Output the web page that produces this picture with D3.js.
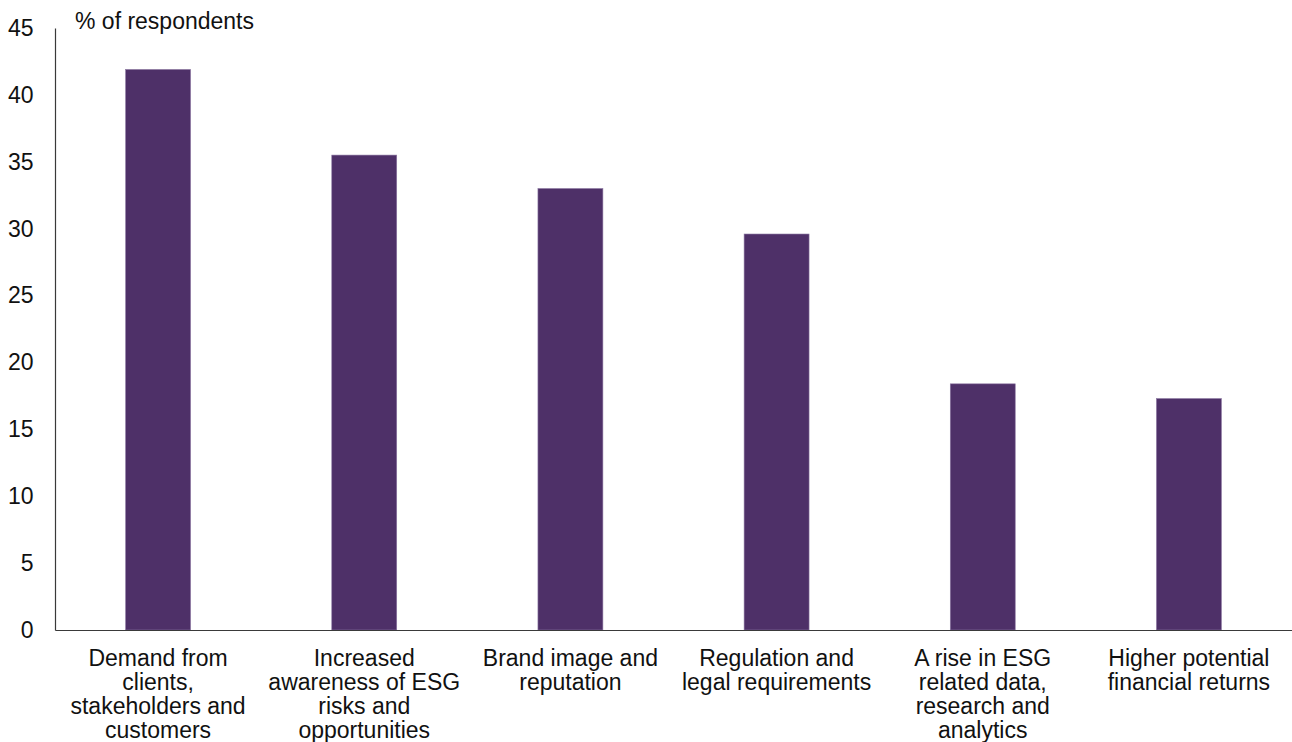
<!DOCTYPE html>
<html>
<head>
<meta charset="utf-8">
<script src="https://cdn.jsdelivr.net/npm/d3@7"></script>
<style>
  html, body { margin: 0; padding: 0; background: #ffffff; }
  svg { display: block; }
  text { font-family: "Liberation Sans", Arial, sans-serif; fill: #111111; }
</style>
</head>
<body>
<svg id="chart" width="1292" height="742"></svg>
<script>
// Data
const categories = [
  "Demand from clients, stakeholders and customers",
  "Increased awareness of ESG risks and opportunities",
  "Brand image and reputation",
  "Regulation and legal requirements",
  "A rise in ESG related data, research and analytics",
  "Higher potential financial returns"
];
const categoryLines = [
  ["Demand from", "clients,", "stakeholders and", "customers"],
  ["Increased", "awareness of ESG", "risks and", "opportunities"],
  ["Brand image and", "reputation"],
  ["Regulation and", "legal requirements"],
  ["A rise in ESG", "related data,", "research and", "analytics"],
  ["Higher potential", "financial returns"]
];
const values = [41.9, 35.5, 33.0, 29.6, 18.4, 17.3];
const yTicks = [0, 5, 10, 15, 20, 25, 30, 35, 40, 45];
const yAxisTitle = "% of respondents";

const svg = d3.select("#chart");
const mLeft = 55, mRight = 1292, mTop = 28, mBottom = 630;

const x = d3.scaleBand()
  .domain(categories)
  .range([mLeft, mRight])
  .paddingInner(0.685)
  .paddingOuter(0.3425);

const y = d3.scaleLinear().domain([0, 45]).range([mBottom, mTop]);

// Bars
svg.append("g").selectAll("rect")
  .data(values)
  .join("rect")
  .attr("x", (d, i) => x(categories[i]))
  .attr("y", d => y(d))
  .attr("width", x.bandwidth())
  .attr("height", d => y(0) - y(d))
  .attr("fill", "#4e3068")
  .attr("stroke", "#8a76a0")
  .attr("stroke-width", 0.6);

// Y axis
const yAxis = svg.append("g")
  .attr("transform", `translate(${mLeft},0)`)
  .call(d3.axisLeft(y).tickValues(yTicks).tickSize(0).tickSizeOuter(0).tickPadding(21.5));
yAxis.select(".domain").attr("stroke", "#3a3a3a").attr("stroke-width", 1.2);
yAxis.selectAll("text")
  .style("font-family", '"Liberation Sans", Arial, sans-serif')
  .style("font-size", "23px")
  .attr("fill", "#111111");

// X axis baseline
const xAxis = svg.append("g")
  .attr("transform", `translate(0,${mBottom})`)
  .call(d3.axisBottom(x).tickSize(0).tickSizeOuter(0).tickFormat(""));
xAxis.select(".domain").attr("stroke", "#3a3a3a").attr("stroke-width", 1.2);

// Category labels (multi-line)
const labels = svg.append("g").selectAll("text")
  .data(categories)
  .join("text")
  .attr("x", d => x(d) + x.bandwidth() / 2)
  .attr("y", mBottom + 36)
  .attr("text-anchor", "middle")
  .style("font-size", "23px");
labels.each(function(d, i) {
  d3.select(this).selectAll("tspan")
    .data(categoryLines[i])
    .join("tspan")
    .attr("x", x(d) + x.bandwidth() / 2)
    .attr("dy", (t, j) => j === 0 ? 0 : 24)
    .text(t => t);
});

// Y axis title
svg.append("text")
  .attr("x", 75)
  .attr("y", 29)
  .style("font-size", "23px")
  .text(yAxisTitle);
</script>
</body>
</html>
